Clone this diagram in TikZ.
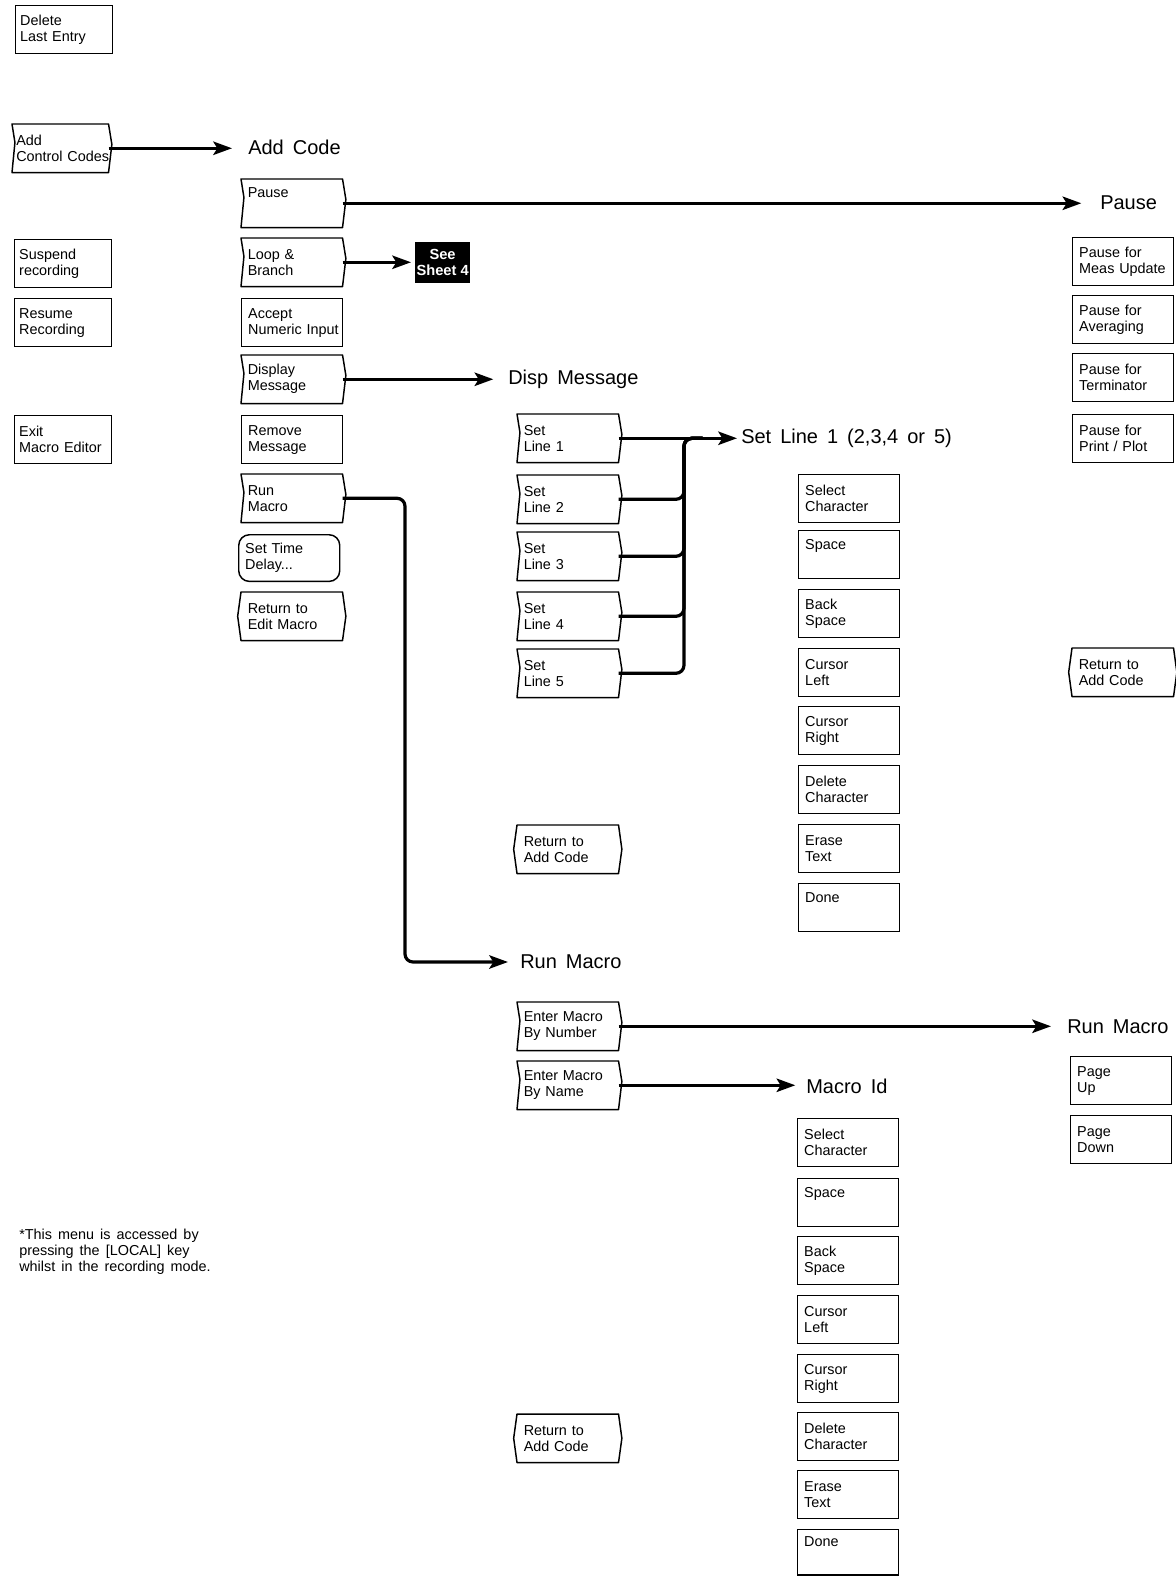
\documentclass[tikz,border=0pt]{standalone}
\usepackage{fontspec}
\setmainfont{Liberation Sans}
\usetikzlibrary{calc,arrows.meta}
\protected\def\kfont{\fontsize{10.8}{12}\selectfont\hyphenpenalty=10000 \spaceskip=0.42em plus 0.1em\relax}
\protected\def\tfont{\fontsize{15}{18}\selectfont\spaceskip=0.45em plus 0.1em\relax}
\newcommand\menuout[1]{\draw[outl] (#1.north west) -- ($(#1.north west)!0.38!(#1.south west)+(2.2pt,0pt)$) -- (#1.south west) -- (#1.south east) -- ($(#1.north east)!0.42!(#1.south east)+(2.5pt,0pt)$) -- (#1.north east) -- cycle;}
\newcommand\retout[1]{\draw[outl] (#1.north west) -- ($(#1.north west)!0.5!(#1.south west)+(-2.5pt,0pt)$) -- (#1.south west) -- (#1.south east) -- ($(#1.north east)!0.5!(#1.south east)+(2.5pt,0pt)$) -- (#1.north east) -- cycle;}
\begin{document}
\begin{tikzpicture}[x=0.75pt,y=-0.75pt,
  kbase/.style={anchor=north west, inner xsep=3pt, inner ysep=0pt, minimum height=36pt, minimum width=75.75pt, text width=66pt, align=left, font=\kfont},
  plain/.style={kbase, draw, line width=1.1pt},
  ghost/.style={kbase, draw=none},
  outl/.style={line width=1.1pt, line join=round},
  conn/.style={line width=2.4pt},
  arr/.style={conn, -{Stealth[length=14pt,width=10pt,inset=3pt]}},
  ttl/.style={anchor=west, inner sep=0pt, font=\tfont}
]
\fill[white] (0,0) rectangle (1176,1577);
\useasboundingbox (0,0) rectangle (1176,1577);

% ---- left column
\node[plain, minimum width=72.75pt] (del) at (15,5) {Delete\\Last~Entry};
\node[ghost, minimum width=70.5pt] (acc) at (12,124) {Add\\Control~Codes}; \menuout{acc}
\node[plain, minimum width=72.75pt] (susp) at (14,239) {Suspend\\recording};
\node[plain, minimum width=72.75pt] (resm) at (14,298) {Resume\\Recording};
\node[plain, minimum width=72.75pt] (exit) at (14,415) {Exit\\Macro~Editor};

% ---- Add Code column
\node[ttl] (tAdd) at (248,147) {Add Code};
\node[ghost] (pause) at (241,179) {Pause\\\strut}; \menuout{pause}
\node[ghost] (loop) at (241,238) {Loop~\&\\Branch}; \menuout{loop}
\node[plain] (accept) at (241,298) {Accept\\\mbox{Numeric Input}};
\node[ghost] (disp) at (241,355) {Display\\Message}; \menuout{disp}
\node[plain] (remove) at (241,415) {Remove\\Message};
\node[ghost] (runm) at (241,474) {Run\\Macro}; \menuout{runm}
\node[plain, rounded corners=8pt, minimum height=35pt] (settime) at (238,534) {Set~Time\\Delay...};
\node[ghost] (retedit) at (241,592) {Return~to\\Edit~Macro}; \retout{retedit}

\node[anchor=north west, fill=black, minimum width=41pt, minimum height=30.75pt, inner sep=0pt, align=center, text=white, font=\bfseries\fontsize{11}{12}\selectfont] (see) at (415,242) {See\\Sheet~4};

% ---- Pause column
\node[ttl] (tPause) at (1100,203) {Pause};
\node[plain] (pmeas) at (1072,237) {Pause~for\\Meas~Update};
\node[plain] (pavg) at (1072,295) {Pause~for\\Averaging};
\node[plain] (pterm) at (1072,353) {Pause~for\\Terminator};
\node[plain] (pprint) at (1072,414) {Pause~for\\Print~/~Plot};
\node[ghost] (pret) at (1072,648) {Return~to\\Add~Code}; \retout{pret}

% ---- Disp Message column
\node[ttl] (tDisp) at (508,379) {Disp Message};
\node[ghost] (L1) at (517,414) {Set\\Line~1}; \menuout{L1}
\node[ghost] (L2) at (517,475) {Set\\Line~2}; \menuout{L2}
\node[ghost] (L3) at (517,532) {Set\\Line~3}; \menuout{L3}
\node[ghost] (L4) at (517,592) {Set\\Line~4}; \menuout{L4}
\node[ghost] (L5) at (517,649) {Set\\Line~5}; \menuout{L5}
\node[ghost] (dret) at (517,825) {Return~to\\Add~Code}; \retout{dret}

% ---- Set Line column
\node[ttl] (tSL) at (741,438) {Set Line 1 (2,3,4 or 5)};
\node[plain] (s1) at (798,474) {Select\\Character};
\node[plain] (s2) at (798,530) {Space\\\strut};
\node[plain] (s3) at (798,589) {Back\\Space};
\node[plain] (s4) at (798,648) {Cursor\\Left};
\node[plain] (s5) at (798,706) {Cursor\\Right};
\node[plain] (s6) at (798,765) {Delete\\Character};
\node[plain] (s7) at (798,824) {Erase\\Text};
\node[plain] (s8) at (798,883) {Done\\\strut};

% ---- Run Macro (lower) column
\node[ttl] (tRun) at (520,962) {Run Macro};
\node[ghost] (enum) at (517,1002) {Enter~Macro\\By~Number}; \menuout{enum}
\node[ghost] (ename) at (517,1061) {Enter~Macro\\By~Name}; \menuout{ename}
\node[ghost] (rret) at (517,1414) {Return~to\\Add~Code}; \retout{rret}

% ---- Macro Id column
\node[ttl] (tMid) at (806,1086) {Macro Id};
\node[plain] (m1) at (797,1118) {Select\\Character};
\node[plain] (m2) at (797,1178) {Space\\\strut};
\node[plain] (m3) at (797,1236) {Back\\Space};
\node[plain] (m4) at (797,1295) {Cursor\\Left};
\node[plain] (m5) at (797,1354) {Cursor\\Right};
\node[plain] (m6) at (797,1412) {Delete\\Character};
\node[plain] (m7) at (797,1470) {Erase\\Text};
\node[plain, minimum height=34pt] (m8) at (797,1529) {Done\\\strut};

% ---- Run Macro (right) column
\node[ttl] (tRun2) at (1067,1027) {Run Macro};
\node[plain] (pup) at (1070,1056) {Page\\Up};
\node[plain] (pdn) at (1070,1115) {Page\\Down};

% ---- footnote
\node[anchor=north west, inner sep=0pt, align=left, font=\kfont] (note) at (19,1229) {*This menu is accessed by\\ pressing the [LOCAL] key\\ whilst in the recording mode.};

% ---- connectors
\draw[arr, shorten >=12pt] (acc.east) -- (acc.east -| tAdd.west);
\draw[arr, shorten >=14pt] (pause.east) -- (pause.east -| tPause.west);
\draw[arr, shorten >=3pt] (loop.east) -- (loop.east -| see.west);
\draw[arr, shorten >=11pt] (disp.east) -- (disp.east -| tDisp.west);
\coordinate (busR) at (405,0);
\draw[arr, rounded corners=6pt, shorten >=9pt] (runm.east) -- (runm.east -| busR) -- (busR |- tRun.west) -- (tRun.west);
\coordinate (busS) at (684,0);
\coordinate (junc) at ($(busS |- L1.east)+(14pt,0pt)$);
\draw[arr, shorten >=3pt] (L1.east) -- (L1.east -| tSL.west);
\foreach \k in {L2,L3,L4,L5} \draw[conn, rounded corners=6pt] (\k.east) -- (\k.east -| busS) -- (busS |- L1.east) -- (junc);
\draw[arr, shorten >=12pt] (enum.east) -- (enum.east -| tRun2.west);
\draw[arr, shorten >=8pt] (ename.east) -- (ename.east -| tMid.west);
\end{tikzpicture}
\end{document}
